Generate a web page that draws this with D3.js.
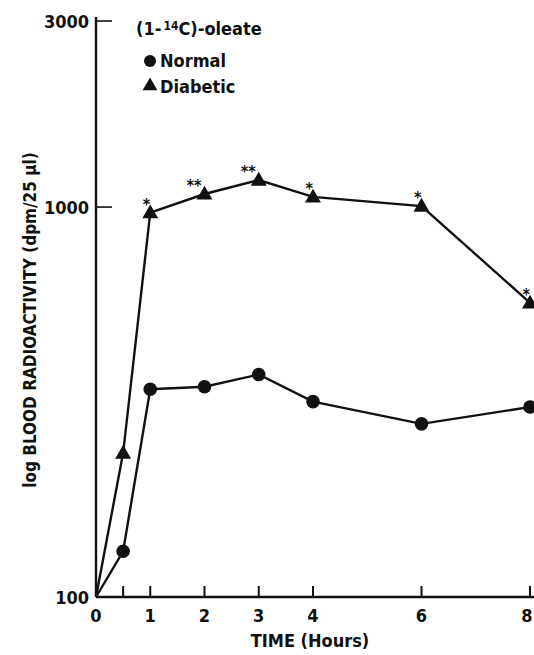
<!DOCTYPE html>
<html><head><meta charset="utf-8">
<script src="https://cdn.jsdelivr.net/npm/d3@7"></script>
<style>
body{margin:0;background:#fff;}
text{font-family:"DejaVu Sans Condensed","DejaVu Sans",sans-serif;font-stretch:condensed;font-weight:bold;fill:#111;}
</style></head><body>
<svg id="c" width="534" height="655"></svg>
<script>
const hours = [0, 0.5, 1, 2, 3, 4, 6, 8];
const normal = [100, 131, 341, 346, 372, 317, 278, 307];
const diabetic = [100, 234, 967, 1080, 1173, 1062, 1006, 568];
const signif = ["", "", "*", "**", "**", "*", "*", "*"];
const xTickVals = [0.5, 1, 2, 3, 4, 6, 8];
const xLabelVals = [0, 1, 2, 3, 4, 6, 8];
const yTickVals = [100, 1000, 3000];

const svg = d3.select("#c");
const x = d3.scaleLinear().domain([0, 8]).range([96, 530]);
const y = d3.scaleLog().domain([100, 3000]).range([597, 21]);

// axes lines
svg.append("line").attr("x1", x(0)).attr("x2", 534).attr("y1", y(100)).attr("y2", y(100)).attr("stroke", "#111").attr("stroke-width", 2.4);
svg.append("line").attr("x1", x(0)).attr("x2", x(0)).attr("y1", y(100)).attr("y2", 17).attr("stroke", "#111").attr("stroke-width", 2.4);

// x ticks (upward)
svg.selectAll(".xt").data(xTickVals).join("line")
  .attr("x1", d => x(d)).attr("x2", d => x(d))
  .attr("y1", y(100)).attr("y2", y(100) - 11)
  .attr("stroke", "#111").attr("stroke-width", 2);
svg.selectAll(".xl").data(xLabelVals).join("text")
  .attr("x", d => Math.min(x(d), 527)).attr("y", 622).attr("text-anchor", "middle")
  .attr("font-size", 18).text(d => d);
svg.append("text").attr("x", 310).attr("y", 647).attr("text-anchor", "middle")
  .attr("font-size", 18).text("TIME (Hours)");

// y ticks
svg.selectAll(".yt").data(yTickVals.filter(d => d > 100)).join("line")
  .attr("x1", x(0)).attr("x2", x(0) + 16)
  .attr("y1", d => y(d)).attr("y2", d => y(d))
  .attr("stroke", "#111").attr("stroke-width", 1.6);
svg.selectAll(".yl").data(yTickVals).join("text")
  .attr("x", 89).attr("y", d => y(d) + 7).attr("text-anchor", "end")
  .attr("font-size", 18).text(d => d);
svg.append("text").attr("transform", "translate(36,320) rotate(-90)")
  .attr("text-anchor", "middle").attr("font-size", 17)
  .text("log BLOOD RADIOACTIVITY (dpm/25 µl)");

// lines
const line = d3.line().x(d => x(d[0])).y(d => y(d[1]));
svg.append("path").datum(hours.map((h, i) => [h, normal[i]]))
  .attr("d", line).attr("fill", "none").attr("stroke", "#111").attr("stroke-width", 2.4);
svg.append("path").datum(hours.map((h, i) => [h, diabetic[i]]))
  .attr("d", line).attr("fill", "none").attr("stroke", "#111").attr("stroke-width", 2.4);

// markers (skip origin)
const idx = hours.map((h, i) => i).filter(i => i > 0);
svg.selectAll(".nc").data(idx).join("circle")
  .attr("cx", i => x(hours[i])).attr("cy", i => y(normal[i])).attr("r", 6.8).attr("fill", "#111");
const tri = d3.symbol().type(d3.symbolTriangle).size(110);
svg.selectAll(".dt").data(idx).join("path")
  .attr("transform", i => `translate(${x(hours[i])},${y(diabetic[i]) + 1})`)
  .attr("d", tri).attr("fill", "#111");

// significance
svg.selectAll(".sg").data(idx.filter(i => signif[i])).join("text")
  .attr("x", i => x(hours[i]) + (signif[i].length > 1 ? -3 : 0))
  .attr("y", i => y(diabetic[i]) - 3)
  .attr("text-anchor", "end").attr("font-size", 16).text(i => signif[i]);

// legend
const lg = svg.append("text").attr("x", 136).attr("y", 35).attr("font-size", 18);
lg.append("tspan").text("(1-");
lg.append("tspan").attr("font-size", 12).attr("dy", -5).attr("dx", 2).text("14");
lg.append("tspan").attr("dy", 5).text("C)-oleate");
svg.append("circle").attr("cx", 150).attr("cy", 61).attr("r", 6).attr("fill", "#111");
svg.append("text").attr("x", 160).attr("y", 67).attr("font-size", 18).text("Normal");
svg.append("path").attr("transform", "translate(150,86)").attr("d", d3.symbol().type(d3.symbolTriangle).size(95)).attr("fill", "#111");
svg.append("text").attr("x", 160).attr("y", 93).attr("font-size", 18).text("Diabetic");
</script></body></html>
